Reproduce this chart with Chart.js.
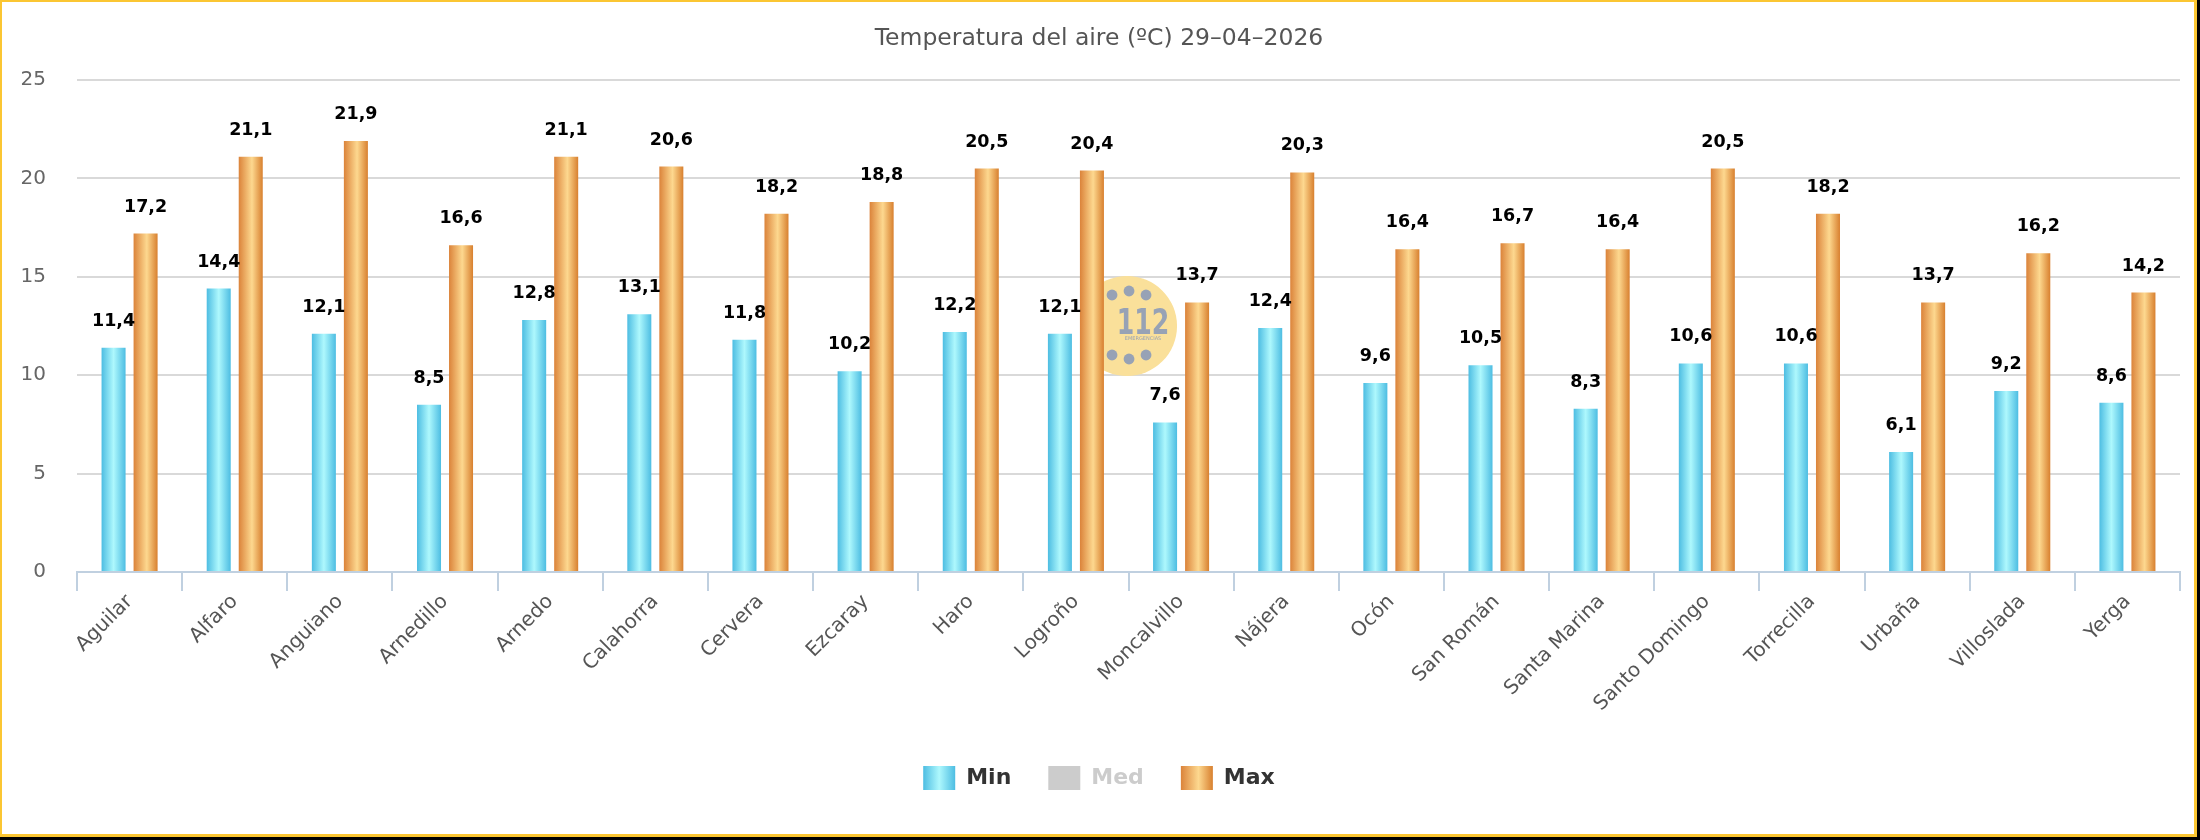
<!DOCTYPE html>
<html>
<head>
<meta charset="utf-8">
<script src="https://cdn.jsdelivr.net/npm/chart.js@4/dist/chart.umd.min.js"></script>
<style>
  html, body { margin: 0; padding: 0; background: #fff; }
  #wrap { position: relative; width: 2200px; height: 840px; background: #000; overflow: hidden; }
  #frame { position: absolute; left: 0; top: 0; width: 2197px; height: 837px; box-sizing: border-box;
           border-style: solid; border-color: #fbc632; border-width: 2px 3px 3px 2px; background: #fff; }
  #c { position: absolute; left: 0; top: 0; }
</style>
</head>
<body>
<div id="wrap">
  <div id="frame"></div>
  <canvas id="c" width="2200" height="840"></canvas>
</div>
<script>
// ---- data ----
const categories = ['Aguilar', 'Alfaro', 'Anguiano', 'Arnedillo', 'Arnedo', 'Calahorra', 'Cervera', 'Ezcaray', 'Haro', 'Logroño',
  'Moncalvillo', 'Nájera', 'Ocón', 'San Román', 'Santa Marina', 'Santo Domingo', 'Torrecilla', 'Urbaña', 'Villoslada', 'Yerga'];
const minValues = [11.4, 14.4, 12.1, 8.5, 12.8, 13.1, 11.8, 10.2, 12.2, 12.1, 7.6, 12.4, 9.6, 10.5, 8.3, 10.6, 10.6, 6.1, 9.2, 8.6];
const medValues = [];
const maxValues = [17.2, 21.1, 21.9, 16.6, 21.1, 20.6, 18.2, 18.8, 20.5, 20.4, 13.7, 20.3, 16.4, 16.7, 16.4, 20.5, 18.2, 13.7, 16.2, 14.2];
const yTicks = [0, 5, 10, 15, 20, 25];
const seriesNames = ['Min', 'Med', 'Max'];
const titleText = 'Temperatura del aire (ºC) 29–04–2026';

// ---- styles ----
const gradStops = {
  min: [[0, '#4dbde2'], [0.5, '#aef8fd'], [1, '#4dbde2']],
  max: [[0, '#db833a'], [0.55, '#fdd88f'], [1, '#d8802f']]
};
function hGrad(ctx, x0, x1, stops) {
  const g = ctx.createLinearGradient(x0, 0, x1, 0);
  stops.forEach(s => g.addColorStop(s[0], s[1]));
  return g;
}
const FONT = '"DejaVu Sans", sans-serif';

const gradientPlugin = {
  id: 'gradients',
  beforeDraw(chart) {
    const lg = chart.legend;
    if (lg && lg.legendItems) {
      lg.legendItems.forEach((it, i) => {
        const ds = chart.data.datasets[it.datasetIndex];
        const hb = lg.legendHitBoxes[i];
        if (ds.gradKey && hb) it.fillStyle = hGrad(chart.ctx, hb.left, hb.left + lg.options.labels.boxWidth, gradStops[ds.gradKey]);
      });
    }
  },
  beforeDatasetsDraw(chart) {
    // watermark logo (decorative)
    const ctx = chart.ctx, a = chart.chartArea;
    const cx = a.left + (a.right - a.left) * 0.4993, cy = a.top + (a.bottom - a.top) * 0.5;
    ctx.save();
    ctx.beginPath(); ctx.rect(cx - 23, cy - 60, 100, 120); ctx.clip();
    ctx.beginPath(); ctx.arc(cx, cy, 50, 0, Math.PI * 2); ctx.fillStyle = '#fae09a'; ctx.fill();
    ctx.fillStyle = '#97a2b5';
    [[-15, -31], [2, -35], [19, -31], [-15, 29], [2, 33], [19, 29]].forEach(d => {
      ctx.beginPath(); ctx.arc(cx + d[0], cy + d[1], 5.4, 0, Math.PI * 2); ctx.fill();
    });
    ctx.save();
    ctx.translate(cx + 16, cy + 8);
    ctx.scale(0.7, 1);
    ctx.font = 'bold 36px ' + FONT; ctx.textAlign = 'center'; ctx.textBaseline = 'alphabetic';
    ctx.fillText('112', 0, 0);
    ctx.restore();
    ctx.font = '5px ' + FONT; ctx.textAlign = 'center'; ctx.textBaseline = 'middle';
    ctx.fillText('EMERGENCIAS', cx + 16, cy + 13);
    ctx.restore();
    // gradient bars
    chart.data.datasets.forEach((ds, i) => {
      if (!ds.gradKey || !chart.isDatasetVisible(i)) return;
      chart.getDatasetMeta(i).data.forEach(el => {
        const g = hGrad(ctx, el.x - el.width / 2, el.x + el.width / 2, gradStops[ds.gradKey]);
        el.options = Object.assign({}, el.options, { backgroundColor: g });
      });
    });
  },
  afterDatasetsDraw(chart) {
    const ctx = chart.ctx;
    ctx.save();
    ctx.font = 'bold 17.5px ' + FONT;
    ctx.fillStyle = '#000';
    ctx.textAlign = 'center';
    ctx.textBaseline = 'alphabetic';
    chart.data.datasets.forEach((ds, i) => {
      if (!chart.isDatasetVisible(i)) return;
      chart.getDatasetMeta(i).data.forEach((el, j) => {
        const v = ds.data[j];
        if (v == null) return;
        ctx.fillText(v.toFixed(1).replace('.', ','), el.x, el.y - 22);
      });
    });
    ctx.restore();
  }
};

new Chart(document.getElementById('c'), {
  type: 'bar',
  data: {
    labels: categories,
    datasets: [
      { label: seriesNames[0], data: minValues, backgroundColor: '#7fd9f0', gradKey: 'min' },
      { label: seriesNames[1], data: medValues, backgroundColor: '#cccccc', hidden: true },
      { label: seriesNames[2], data: maxValues, backgroundColor: '#f0b062', gradKey: 'max' }
    ]
  },
  options: {
    responsive: false,
    animation: false,
    events: [],
    devicePixelRatio: 1,
    categoryPercentage: 0.609,
    barPercentage: 0.75,
    layout: { padding: { left: 18, right: 20, top: 0, bottom: 40 } },
    plugins: {
      tooltip: { enabled: false },
      title: {
        display: true, text: titleText, color: '#555555',
        font: { family: FONT, size: 23.5, weight: 'normal' },
        padding: { top: 25, bottom: 26.8 }
      },
      legend: {
        position: 'bottom',
        labels: {
          boxWidth: 32, boxHeight: 24, padding: 37,
          font: { family: FONT, size: 22, weight: 'bold' },
          color: '#333333',
          generateLabels(chart) {
            return chart.data.datasets.map((ds, i) => ({
              text: ds.label,
              fillStyle: ds.backgroundColor,
              strokeStyle: 'rgba(0,0,0,0)',
              lineWidth: 0,
              hidden: false,
              fontColor: chart.isDatasetVisible(i) ? '#333333' : '#cccccc',
              datasetIndex: i
            }));
          }
        }
      }
    },
    scales: {
      x: {
        afterFit(scale) { scale.height = 157; },
        grid: { display: true, drawOnChartArea: false, drawTicks: true, tickLength: 19, color: '#c0d0e0', lineWidth: 2, offset: true },
        border: { display: true, color: '#c0d0e0', width: 2 },
        ticks: {
          autoSkip: false, minRotation: 45, maxRotation: 45, padding: -1, labelOffset: 0,
          color: '#555555', font: { family: FONT, size: 20 }
        }
      },
      y: {
        min: 0, max: 25,
        afterFit(scale) { scale.width = 59; },
        afterBuildTicks(scale) { scale.ticks = yTicks.map(v => ({ value: v })); },
        grid: { color: '#d9d9d9', lineWidth: 2, drawTicks: false },
        border: { display: false },
        ticks: { padding: 31, color: '#666666', font: { family: FONT, size: 20 } }
      }
    }
  },
  plugins: [gradientPlugin]
});
</script>
</body>
</html>
